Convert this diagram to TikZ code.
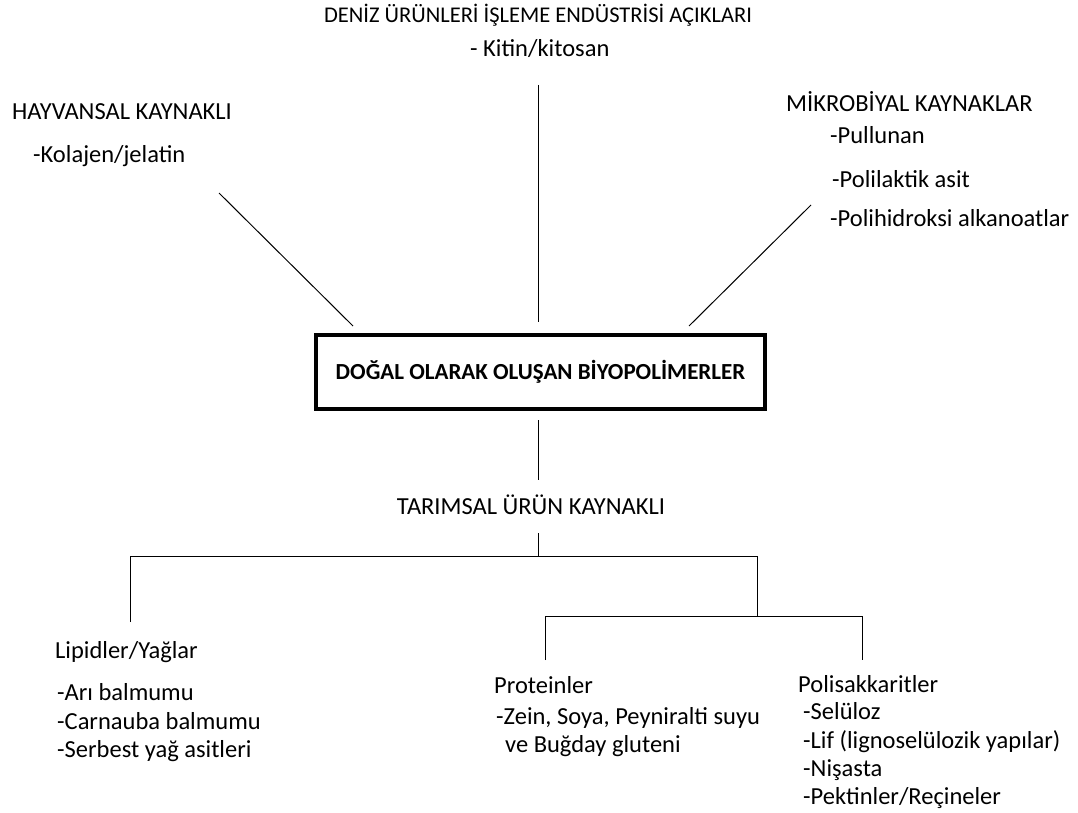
\documentclass[tikz,border=0pt]{standalone}
\usepackage{fontspec}
\setmainfont{Carlito}
\begin{document}
\begin{tikzpicture}[x=1pt,y=-1pt,
  lbl/.style={inner sep=0pt, font=\fontsize{24.5}{28}\selectfont, anchor=base west},
  ctr/.style={inner sep=0pt, font=\fontsize{24.5}{28}\selectfont, anchor=base},
  mainbox/.style={draw=black, line width=3.5pt, minimum width=449pt, minimum height=74pt, inner sep=0pt, font=\fontsize{23}{27}\selectfont\bfseries},
  conn/.style={draw=black, line width=1pt}]
\useasboundingbox (0,0) rectangle (1078,813);
% top texts
\node[ctr, font=\fontsize{22.5}{26}\selectfont] (deniz) at (538,23) {DENİZ ÜRÜNLERİ İŞLEME ENDÜSTRİSİ AÇIKLARI};
\node[lbl] (kitin) at (470,57) {- Kitin/kitosan};
\node[lbl] (hay) at (12,120) {HAYVANSAL KAYNAKLI};
\node[lbl] (kol) at (33,163) {-Kolajen/jelatin};
\node[lbl] (mik) at (786,112) {MİKROBİYAL KAYNAKLAR};
\node[lbl] (pul) at (830,144) {-Pullunan};
\node[lbl] (pla) at (832,188) {-Polilaktik asit};
\node[lbl] (pha) at (830,226) {-Polihidroksi alkanoatlar};
% main box
\node[mainbox] (main) at (540.5,372) {DOĞAL OLARAK OLUŞAN BİYOPOLİMERLER};
% connector end points
\coordinate (hayA) at (219,193);
\coordinate (hayB) at (353,326);
\coordinate (denA) at (538,85);
\coordinate (denB) at (538,322);
\coordinate (mikA) at (811,205);
\coordinate (mikB) at (689,326);
\draw[conn] (hayA) -- (hayB);
\draw[conn] (denA) -- (denB);
\draw[conn] (mikA) -- (mikB);
% agricultural branch
\node[ctr] (tar) at (531,514) {TARIMSAL ÜRÜN KAYNAKLI};
\coordinate (mainB) at (538,420);
\coordinate (tarT) at (538,480);
\draw[conn] (mainB) -- (tarT);
\coordinate (tarB) at (538,533);
\coordinate (j1) at (538,556);
\coordinate (lipC) at (130,556);
\coordinate (lipE) at (130,622);
\coordinate (rC) at (757,556);
\coordinate (rE) at (757,616);
\coordinate (proC) at (545,616);
\coordinate (proE) at (545,660);
\coordinate (polC) at (862,616);
\coordinate (polE) at (862,660);
\draw[conn] (tarB) -- (j1);
\draw[conn] (lipE) -- (lipC) -- (rC) -- (rE);
\draw[conn] (proE) -- (proC) -- (polC) -- (polE);
% bottom texts
\node[lbl] (lip) at (55,658) {Lipidler/Yağlar};
\node[lbl] (ari) at (57,700) {-Arı balmumu};
\node[lbl] (car) at (57,729) {-Carnauba balmumu};
\node[lbl] (ser) at (57,757) {-Serbest yağ asitleri};
\node[lbl] (pro) at (494,693) {Proteinler};
\node[lbl] (zein) at (496,724) {-Zein, Soya, Peyniralti suyu};
\node[lbl] (bug) at (505,752) {ve Buğday gluteni};
\node[lbl] (pol) at (798,692) {Polisakkaritler};
\node[lbl] (sel) at (803,719) {-Selüloz};
\node[lbl] (lif) at (803,748) {-Lif (lignoselülozik yapılar)};
\node[lbl] (nis) at (803,776) {-Nişasta};
\node[lbl] (pek) at (803,804) {-Pektinler/Reçineler};
\end{tikzpicture}
\end{document}
